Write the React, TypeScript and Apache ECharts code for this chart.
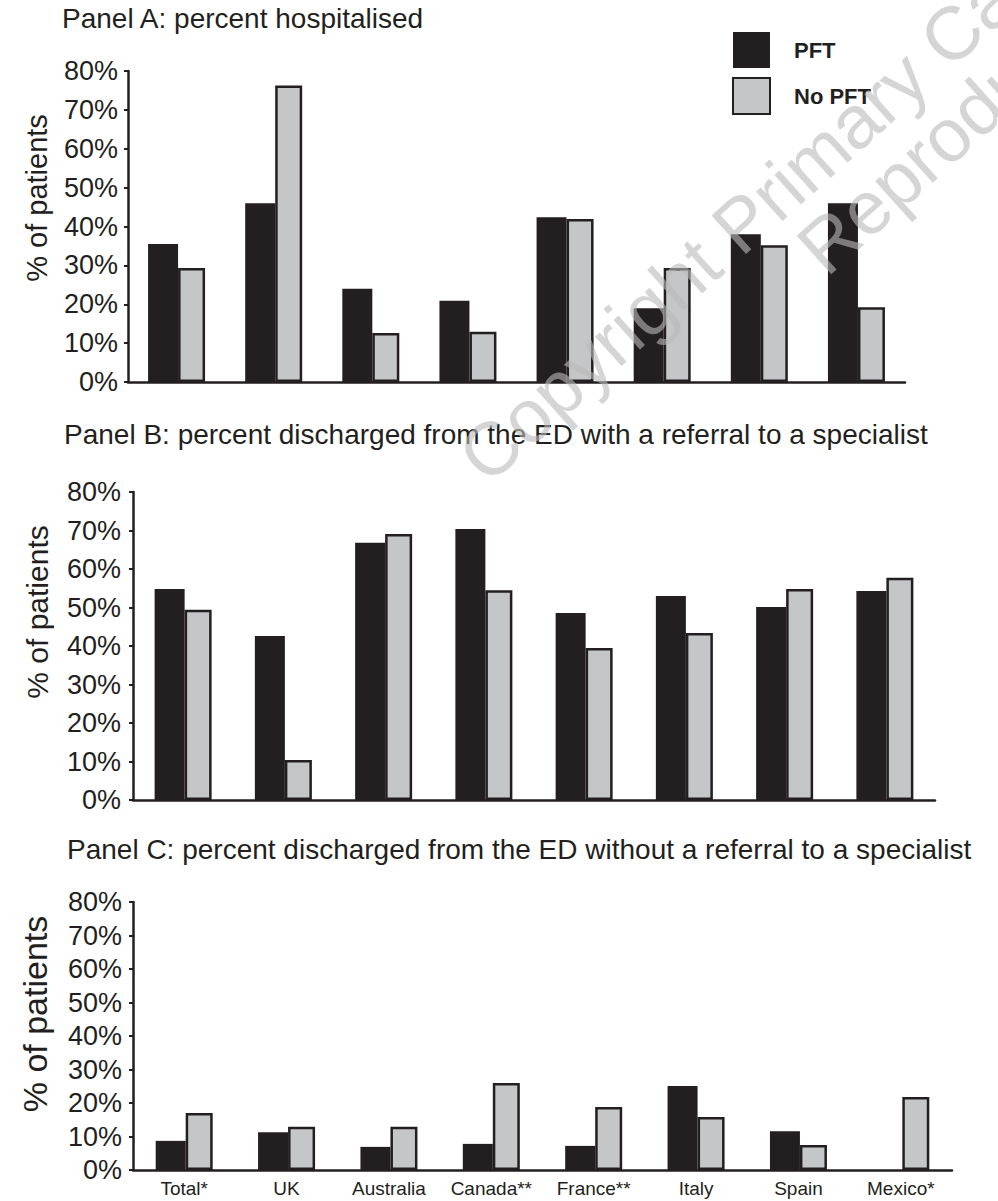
import React, { useEffect, useRef } from "react";
import * as echarts from "echarts";

const categories = ["Total*", "UK", "Australia", "Canada**", "France**", "Italy", "Spain", "Mexico*"];
const seriesNames = ["PFT", "No PFT"];

// Panel A: percent hospitalised
const hospPFT = [35.5, 46.0, 24.0, 20.9, 42.4, 19.0, 38.0, 46.0];
const hospNoPFT = [29.3, 76.3, 12.6, 12.9, 41.9, 29.3, 35.2, 19.2];
// Panel B: discharged with referral
const referPFT = [54.8, 42.6, 66.8, 70.4, 48.6, 53.0, 50.1, 54.3];
const referNoPFT = [49.4, 10.4, 69.1, 54.5, 39.5, 43.4, 54.8, 57.7];
// Panel C: discharged without referral
const noReferPFT = [8.7, 11.3, 6.9, 7.8, 7.2, 25.1, 11.6, 0];
const noReferNoPFT = [17.0, 12.9, 12.9, 26.0, 18.8, 15.8, 7.5, 21.8];

const panelTitles = [
  "Panel A: percent hospitalised",
  "Panel B: percent discharged from the ED with a referral to a specialist",
  "Panel C: percent discharged from the ED without a referral to a specialist",
];
const yAxisTitle = "% of patients";
const yMin = 0;
const yMax = 80;
const yStep = 10;
const watermarkLines = ["Copyright Primary Care Respiratory Society UK", "Reproduction prohibited"];

const FONT = "'Liberation Sans', Arial, Helvetica, sans-serif";
const INK = "#231f20";
const GREY = "#c5c6c8";

export default function App() {
  const ref = useRef<HTMLDivElement>(null);

  useEffect(() => {
    if (!ref.current) return;
    const chart = echarts.init(ref.current, null, { renderer: "svg" });

    const panels = [
      { pft: hospPFT, no: hospNoPFT },
      { pft: referPFT, no: referNoPFT },
      { pft: noReferPFT, no: noReferNoPFT },
    ];
    const grids = [
      { left: 128, right: 93, top: 71, height: 311 },
      { left: 133, right: 63, top: 492, height: 308 },
      { left: 133, right: 46, top: 902, height: 268 },
    ];
    const labelMargins = [10, 12, 11];
    const titleTops = [4, 420, 835];
    const titleLefts = [62, 64, 67];
    const nameSpots = [
      { x: 37, y: 198, size: 29 },
      { x: 37, y: 612, size: 30 },
      { x: 35, y: 1014, size: 34 },
    ];

    const series: any[] = [];
    panels.forEach((p, i) => {
      series.push({
        type: "bar",
        name: seriesNames[0],
        xAxisIndex: i,
        yAxisIndex: i,
        data: p.pft,
        barWidth: 30,
        barGap: "0%",
        itemStyle: { color: INK, borderColor: INK, borderWidth: 0 },
      });
      series.push({
        type: "bar",
        name: seriesNames[1],
        xAxisIndex: i,
        yAxisIndex: i,
        data: p.no,
        barWidth: 27,
        barGap: "0%",
        itemStyle: { color: GREY, borderColor: INK, borderWidth: 2.5 },
      });
    });

    const option: any = {
      animation: false,
      backgroundColor: "#ffffff",
      textStyle: { fontFamily: FONT, color: INK },
      title: panelTitles.map((t, i) => ({
        text: t,
        left: titleLefts[i],
        top: titleTops[i],
        padding: 0,
        textStyle: { fontFamily: FONT, fontSize: 28, fontWeight: "normal", color: INK },
      })),
      legend: {
        data: seriesNames,
        orient: "vertical",
        left: 732,
        top: 32,
        padding: 0,
        itemWidth: 37,
        itemHeight: 36,
        itemGap: 9,
        icon: "rect",
        textStyle: { fontFamily: FONT, fontSize: 22, fontWeight: "bold", color: INK, padding: [0, 0, 0, 19] },
      },
      grid: grids.map((g) => ({ ...g, containLabel: false })),
      xAxis: grids.map((_, i) => ({
        type: "category",
        gridIndex: i,
        data: categories,
        axisLine: { show: true, lineStyle: { color: INK, width: 2.5 } },
        axisTick: { show: false },
        axisLabel: {
          show: i === 2,
          fontFamily: FONT,
          fontSize: 19,
          color: INK,
          margin: 9,
          interval: 0,
        },
        splitLine: { show: false },
      })),
      yAxis: grids.map((_, i) => ({
        type: "value",
        gridIndex: i,
        min: yMin,
        max: yMax,
        interval: yStep,
        axisLine: { show: true, lineStyle: { color: INK, width: 2.5 } },
        axisTick: { show: true, length: 4, lineStyle: { color: INK, width: 2 } },
        axisLabel: {
          formatter: "{value}%",
          fontFamily: FONT,
          fontSize: 27,
          color: INK,
          margin: labelMargins[i],
        },
        splitLine: { show: false },
      })),
      graphic: [
        ...nameSpots.map((s) => ({
          type: "text",
          x: s.x,
          y: s.y,
          rotation: Math.PI / 2,
          style: {
            text: yAxisTitle,
            fontFamily: FONT,
            fontSize: s.size,
            fill: INK,
            textAlign: "center",
            textVerticalAlign: "middle",
            align: "center",
            verticalAlign: "middle",
          },
        })),
        {
          type: "group",
          x: 1057,
          y: -61,
          rotation: (42 * Math.PI) / 180,
          z: 100,
          silent: true,
          children: watermarkLines.map((line, k) => ({
            type: "text",
            x: 0,
            y: k * 72,
            z: 100,
            style: {
              text: line,
              fontFamily: FONT,
              fontSize: 75,
              fill: "rgba(185,185,185,0.6)",
              textAlign: "center",
              textVerticalAlign: "middle",
              align: "center",
              verticalAlign: "middle",
            },
          })),
        },
      ],
      series,
    };

    chart.setOption(option);
    return () => chart.dispose();
  }, []);

  return (
    <div
      ref={ref}
      style={{ position: "absolute", left: 0, top: 0, width: 998, height: 1201, background: "#fff" }}
    />
  );
}
